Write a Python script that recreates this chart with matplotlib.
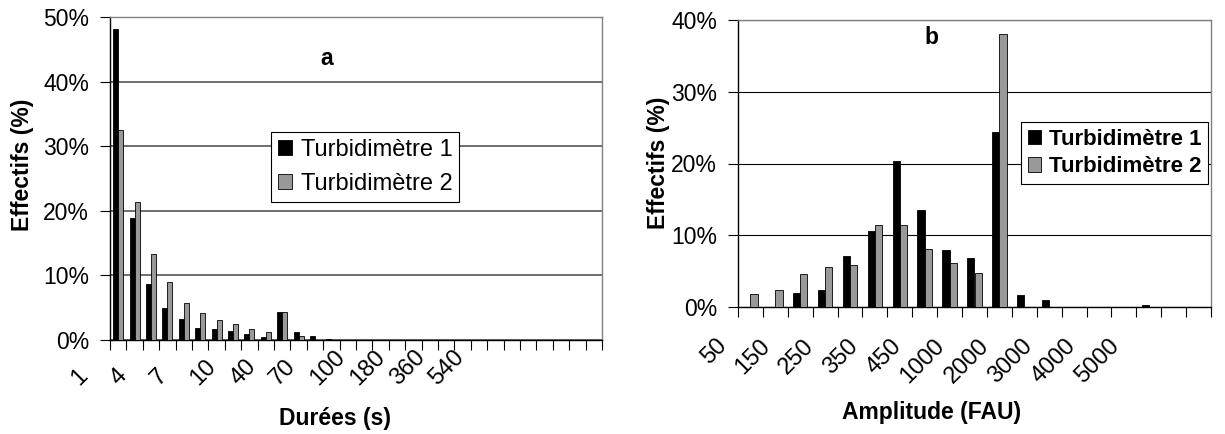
import numpy as np
import matplotlib
matplotlib.use("Agg")
import matplotlib.pyplot as plt
import matplotlib.transforms as mtransforms
from matplotlib.ticker import FuncFormatter

plt.rcParams['font.family'] = ['Liberation Sans', 'DejaVu Sans']

# --- a : durées (s) ---
durees = ['1', '2', '3', '4', '5', '6', '7', '8', '9', '10',
          '20', '30', '40', '50', '60', '70', '80', '90', '100', '120',
          '150', '180', '240', '300', '360', '420', '480', '540', '600', '660']
durees_t1 = [48.1, 18.9, 8.6, 4.9, 3.2, 1.8, 1.65, 1.45, 0.9, 0.5,
             4.4, 1.3, 0.55, 0.15, 0, 0, 0, 0, 0, 0,
             0, 0, 0, 0, 0, 0, 0, 0, 0, 0]
durees_t2 = [32.5, 21.3, 13.3, 8.95, 5.8, 4.2, 3.15, 2.45, 1.75, 1.2,
             4.4, 0.6, 0, 0, 0, 0, 0, 0, 0, 0,
             0, 0, 0, 0, 0, 0, 0, 0, 0, 0]

# --- b : amplitude (FAU) ---
amplitude = ['50', '100', '150', '200', '250', '300', '350', '400', '450', '500',
             '1000', '1500', '2000', '2500', '3000', '3500', '4000', '4500', '5000']
ampl_t1 = [0, 0, 2.0, 2.4, 7.05, 10.65, 20.3, 13.55, 8.0, 6.8,
           24.45, 1.65, 1.0, 0, 0, 0, 0.3, 0, 0]
ampl_t2 = [1.75, 2.35, 4.6, 5.55, 5.85, 11.4, 11.4, 8.05, 6.1, 4.75,
           38.1, 0, 0, 0, 0, 0, 0, 0, 0]

series_names = ['Turbidimètre 1', 'Turbidimètre 2']

W, H = 1225, 434
fig = plt.figure(figsize=(W / 100, H / 100), dpi=100)


def px_box(x0, y0, x1, y1):
    return [x0 / W, 1 - y1 / H, (x1 - x0) / W, (y1 - y0) / H]


pct = FuncFormatter(lambda v, p: f"{v:.0f}%")


def draw(ax, cats, s1, s2, width, ymax, grid_col, grid_lw):
    x = np.arange(len(cats))
    ax.bar(x - width / 2, s1, width, color='black', edgecolor='black', lw=0.6,
           label=series_names[0], zorder=3)
    ax.bar(x + width / 2, s2, width, color='#999999', edgecolor='black', lw=0.6,
           label=series_names[1], zorder=3)
    ax.set_xlim(-0.5, len(cats) - 0.5)
    ax.set_ylim(0, ymax)
    ax.set_yticks(np.arange(0, ymax + 1, 10))
    ax.yaxis.set_major_formatter(pct)
    ax.set_xticks(np.arange(len(cats) + 1) - 0.5)
    ax.set_xticklabels([])
    ax.tick_params(axis='y', labelsize=16.5, length=7, width=0.8, pad=8)
    ax.tick_params(axis='x', length=7, width=0.8)
    ax.grid(axis='y', color=grid_col, lw=grid_lw, zorder=0)
    for s in ['left', 'bottom']:
        ax.spines[s].set_color('black')
        ax.spines[s].set_linewidth(1.0)
    for s in ['top', 'right']:
        ax.spines[s].set_color('#808080')
        ax.spines[s].set_linewidth(1.0)
    ax.set_axisbelow(True)


# left chart
ax1 = fig.add_axes(px_box(110, 17, 602, 340))
draw(ax1, durees, durees_t1, durees_t2, 0.3, 50, '#555555', 1.2)
tr1 = mtransforms.blended_transform_factory(ax1.transData, ax1.transAxes)
# category labels sit squeezed to the left of their categories, like the original
for i, idx in enumerate(range(0, len(durees), 3)):
    ax1.text(-2.4 + 2.43 * i, -0.142, durees[idx], transform=tr1, rotation=45,
             rotation_mode='anchor', ha='left', va='baseline', fontsize=17,
             clip_on=False)
ax1.text(0.44, 0.87, 'a', transform=ax1.transAxes, ha='center', va='center',
         fontsize=16.5, fontweight='bold')
ax1.legend(loc='upper left', bbox_to_anchor=(271 / W, 1 - 132 / H),
           bbox_transform=fig.transFigure, fontsize=17, frameon=True,
           fancybox=False, edgecolor='black', framealpha=1, borderpad=0.3,
           labelspacing=0.5, handlelength=0.6, handleheight=0.6,
           handletextpad=0.35, borderaxespad=0).get_frame().set_linewidth(0.8)

# right chart
ax2 = fig.add_axes(px_box(738, 20, 1211, 307))
draw(ax2, amplitude, ampl_t1, ampl_t2, 0.29, 40, 'black', 0.8)
tr2 = mtransforms.blended_transform_factory(ax2.transData, ax2.transAxes)
for i, idx in enumerate(range(0, len(amplitude), 2)):
    ax2.text(-0.93 + 1.756 * i, -0.139, amplitude[idx], transform=tr2, rotation=45,
             rotation_mode='anchor', ha='right', va='baseline', fontsize=17,
             clip_on=False)
ax2.text(193 / 473, 1 - 18 / 287, 'b', transform=ax2.transAxes, ha='center',
         va='center', fontsize=16.5, fontweight='bold')
leg2 = ax2.legend(loc='upper left', bbox_to_anchor=(1021 / W, 1 - 122 / H),
                  bbox_transform=fig.transFigure, frameon=True, fancybox=False,
                  edgecolor='black', framealpha=1, borderpad=0.3, labelspacing=0.3,
                  handlelength=0.6, handleheight=0.6, handletextpad=0.35,
                  borderaxespad=0, prop={'size': 16, 'weight': 'bold'})
leg2.get_frame().set_linewidth(0.8)

# axis titles
fig.text(22 / W, 1 - 165 / H, 'Effectifs (%)', rotation=90, ha='center', va='center',
         fontsize=16.5, fontweight='bold')
fig.text(659 / W, 1 - 163 / H, 'Effectifs (%)', rotation=90, ha='center', va='center',
         fontsize=16.5, fontweight='bold')
fig.text(335 / W, 1 - 419 / H, 'Durées (s)', ha='center', va='center',
         fontsize=16.5, fontweight='bold')
fig.text(932 / W, 1 - 413 / H, 'Amplitude (FAU)', ha='center', va='center',
         fontsize=16.5, fontweight='bold')

fig.savefig('out.png', dpi=100)
